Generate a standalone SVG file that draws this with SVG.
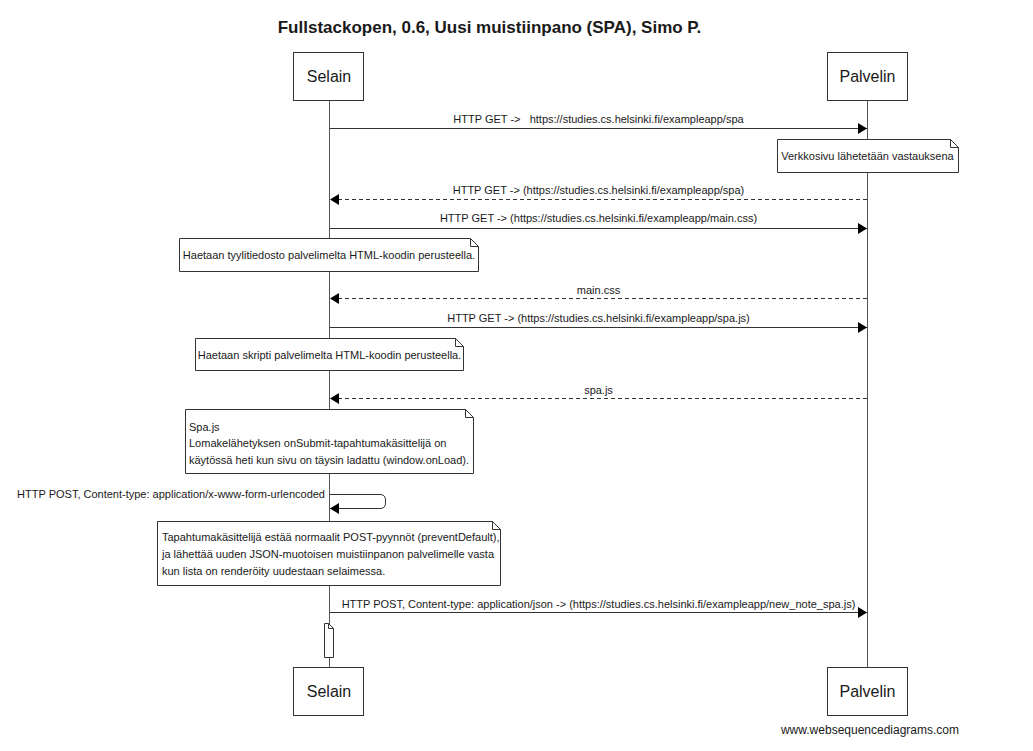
<svg xmlns="http://www.w3.org/2000/svg" width="1033" height="751" viewBox="0 0 1033 751">
<defs>
<style>
text{font-family:"Liberation Sans",Arial,sans-serif;fill:#1a1a1a}
.title{font-size:17px;font-weight:bold;text-anchor:middle}
.pname{font-size:16px;text-anchor:middle}
.msg{font-size:11px;text-anchor:middle}
.nt{font-size:11px}
.ntc{font-size:11px;text-anchor:middle}
.box{fill:#fff;stroke:#333;stroke-width:1}
.life{stroke:#555;stroke-width:1}
.note{fill:#fff;stroke:#333;stroke-width:1}
.fold{fill:none;stroke:#333;stroke-width:1}
.arr{fill:none;stroke:#333;stroke-width:1;marker-end:url(#ah)}
.dash{stroke-dasharray:4,3}
.wm{font-size:12px;text-anchor:middle}
</style>
<marker id="ah" markerUnits="userSpaceOnUse" markerWidth="10" markerHeight="12" refX="9" refY="5.5" orient="auto">
<path d="M0,0 L9,5.5 L0,11 Z" fill="#000"/>
</marker>
</defs>
<rect width="1033" height="751" fill="#fff"/>
<text class="title" x="489.5" y="33">Fullstackopen, 0.6, Uusi muistiinpano (SPA), Simo P.</text>

<g id="lifelines">
<line class="life" x1="329.5" y1="100" x2="329.5" y2="667"/>
<line class="life" x1="867.5" y1="100" x2="867.5" y2="667"/>
</g>

<g id="selain-top">
<rect class="box" x="293.5" y="52.5" width="70" height="48"/>
<text class="pname" x="329" y="82">Selain</text>
</g>
<g id="palvelin-top">
<rect class="box" x="827.5" y="52.5" width="80" height="48"/>
<text class="pname" x="867.5" y="82">Palvelin</text>
</g>
<g id="selain-bottom">
<rect class="box" x="293.5" y="667.5" width="70" height="48"/>
<text class="pname" x="329" y="697">Selain</text>
</g>
<g id="palvelin-bottom">
<rect class="box" x="827.5" y="667.5" width="80" height="48"/>
<text class="pname" x="867.5" y="697">Palvelin</text>
</g>

<g id="connectors">
<path class="arr" d="M330,128.5 H867"/>
<text class="msg" x="598.5" y="123" xml:space="preserve" style="white-space:pre">HTTP GET -&gt;   https://studies.cs.helsinki.fi/exampleapp/spa</text>
<path class="arr dash" d="M867,199.5 H330"/>
<text class="msg" x="598.5" y="194">HTTP GET -&gt; (https://studies.cs.helsinki.fi/exampleapp/spa)</text>
<path class="arr" d="M330,228.5 H867"/>
<text class="msg" x="598.5" y="222">HTTP GET -&gt; (https://studies.cs.helsinki.fi/exampleapp/main.css)</text>
<path class="arr dash" d="M867,298.5 H330"/>
<text class="msg" x="598.5" y="294">main.css</text>
<path class="arr" d="M330,327.5 H867"/>
<text class="msg" x="598.5" y="322">HTTP GET -&gt; (https://studies.cs.helsinki.fi/exampleapp/spa.js)</text>
<path class="arr dash" d="M867,398.5 H330"/>
<text class="msg" x="598.5" y="394">spa.js</text>
<path class="arr" d="M330,494.5 H380 Q385.5,494.5 385.5,500 V503 Q385.5,508.5 380,508.5 H330"/>
<text class="msg" x="325" y="498" style="text-anchor:end">HTTP POST, Content-type: application/x-www-form-urlencoded</text>
<path class="arr" d="M330,612.5 H867"/>
<text class="msg" x="598.5" y="608">HTTP POST, Content-type: application/json -&gt; (https://studies.cs.helsinki.fi/exampleapp/new_note_spa.js)</text>
</g>

<g id="note-verkkosivu">
<path class="note" d="M777.5,139.5 H950.5 L958.5,147.5 V172.5 H777.5 Z"/>
<path class="fold" d="M950.5,139.5 V147.5 H958.5"/>
<text class="ntc" x="867.5" y="160">Verkkosivu lähetetään vastauksena</text>
</g>
<g id="note-tyyli">
<path class="note" d="M179.5,238.5 H470.5 L478.5,246.5 V271.5 H179.5 Z"/>
<path class="fold" d="M470.5,238.5 V246.5 H478.5"/>
<text class="ntc" x="329" y="259">Haetaan tyylitiedosto palvelimelta HTML-koodin perusteella.</text>
</g>
<g id="note-skripti">
<path class="note" d="M195.5,338.5 H455.5 L463.5,346.5 V370.5 H195.5 Z"/>
<path class="fold" d="M455.5,338.5 V346.5 H463.5"/>
<text class="ntc" x="329.5" y="359">Haetaan skripti palvelimelta HTML-koodin perusteella.</text>
</g>
<g id="note-spajs">
<path class="note" d="M185.5,409.5 H465.5 L473.5,417.5 V473.5 H185.5 Z"/>
<path class="fold" d="M465.5,409.5 V417.5 H473.5"/>
<text class="nt" x="189" y="431">Spa.js</text>
<text class="nt" x="189" y="447">Lomakelähetyksen onSubmit-tapahtumakäsittelijä on</text>
<text class="nt" x="189" y="464">käytössä heti kun sivu on täysin ladattu (window.onLoad).</text>
</g>
<g id="note-tapahtuma">
<path class="note" d="M157.5,521.5 H492.5 L500.5,529.5 V585.5 H157.5 Z"/>
<path class="fold" d="M492.5,521.5 V529.5 H500.5"/>
<text class="nt" x="162" y="541">Tapahtumakäsittelijä estää normaalit POST-pyynnöt (preventDefault),</text>
<text class="nt" x="162" y="558">ja lähettää uuden JSON-muotoisen muistiinpanon palvelimelle vasta</text>
<text class="nt" x="162" y="575">kun lista on renderöity uudestaan selaimessa.</text>
</g>
<g id="note-empty">
<path class="note" d="M324.5,623.5 H328.5 L333.5,628.5 V657.5 H324.5 Z"/>
<path class="fold" d="M328.5,623.5 V628.5 H333.5"/>
</g>

<text class="wm" x="870" y="734">www.websequencediagrams.com</text>
</svg>
